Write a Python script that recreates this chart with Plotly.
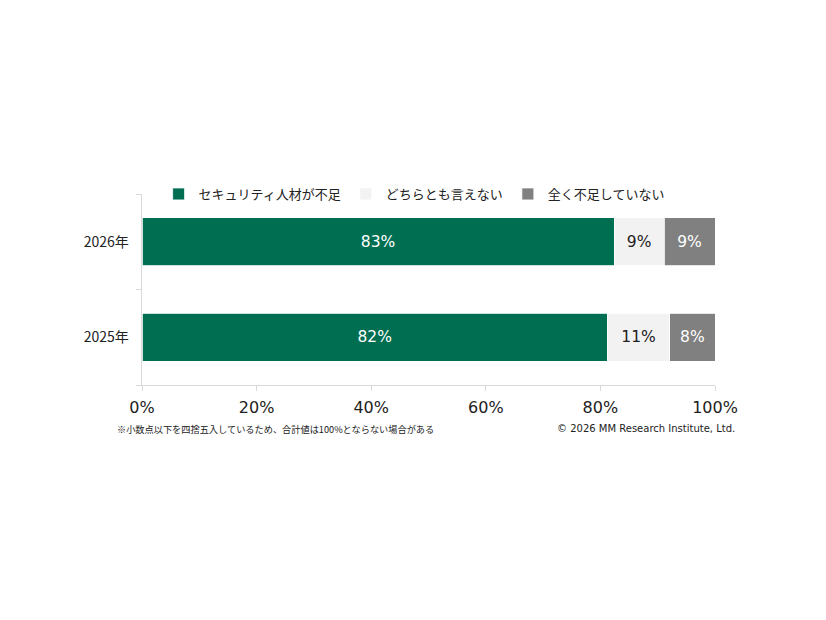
import plotly.graph_objects as go

years = ["2025年", "2026年"]
series_names = ["セキュリティ人材が不足", "どちらとも言えない", "全く不足していない"]
shortage = [81.2, 82.4]
neutral = [10.9, 8.7]
no_shortage = [7.9, 8.9]
shortage_labels = ["82%", "83%"]
neutral_labels = ["11%", "9%"]
no_shortage_labels = ["8%", "9%"]
x_ticks = [0, 20, 40, 60, 80, 100]
x_tick_labels = ["0%", "20%", "40%", "60%", "80%", "100%"]

colors = ["#006E51", "#F2F2F2", "#808080"]
text_colors = ["white", "#222222", "white"]
values = [shortage, neutral, no_shortage]
labels = [shortage_labels, neutral_labels, no_shortage_labels]

LATIN = "DejaVu Sans, Noto Sans CJK JP"
CJK = "Noto Sans CJK JP, DejaVu Sans"

fig = go.Figure()
for name, vals, labs, c, tc in zip(series_names, values, labels, colors, text_colors):
    fig.add_trace(go.Bar(
        y=years, x=vals, name=name, orientation="h",
        marker=dict(color=c, line=dict(color="white", width=0.8)),
        text=labs, textposition="inside", insidetextanchor="middle",
        textfont=dict(color=tc, size=15.5, family=LATIN),
        constraintext="none", hoverinfo="skip",
    ))

fig.update_layout(
    barmode="stack",
    bargap=0.5,
    width=826, height=620,
    margin=dict(l=134, r=119, t=186, b=243, autoexpand=False),
    paper_bgcolor="white", plot_bgcolor="white",
    font=dict(family=CJK, color="#222222"),
    showlegend=True,
    legend=dict(
        orientation="h", x=0.029, xanchor="left", y=1.0, yanchor="middle",
        font=dict(size=13, family=CJK, color="#222222"),
        itemwidth=30, traceorder="normal", bgcolor="rgba(0,0,0,0)",
    ),
    xaxis=dict(
        range=[0, 100], tickvals=x_ticks, ticktext=x_tick_labels,
        showgrid=False, zeroline=False,
        showline=True, linecolor="#D9D9D9", linewidth=1,
        ticks="outside", ticklen=5, tickcolor="#D9D9D9",
        ticklabelstandoff=3,
        tickfont=dict(size=16, family=LATIN, color="#222222"),
        fixedrange=True,
    ),
    yaxis=dict(
        categoryorder="array", categoryarray=years,
        showgrid=False, zeroline=False,
        showline=True, linecolor="#D9D9D9", linewidth=1,
        ticks="outside", ticklen=5, tickcolor="#D9D9D9",
        tickson="boundaries",
        tickfont=dict(size=14, family=CJK, color="#222222"),
        ticksuffix="   ",
        fixedrange=True,
    ),
    annotations=[
        dict(text="※小数点以下を四捨五入しているため、合計値は100%とならない場合がある",
             xref="paper", yref="paper", x=-0.047, y=-0.228, xanchor="left", yanchor="middle",
             showarrow=False, font=dict(size=9.2, family=CJK, color="#222222")),
        dict(text="© 2026 MM Research Institute, Ltd.",
             xref="paper", yref="paper", x=1.039, y=-0.228, xanchor="right", yanchor="middle",
             showarrow=False, font=dict(size=10, family=LATIN, color="#222222")),
    ],
)

fig.write_html("out.html")
